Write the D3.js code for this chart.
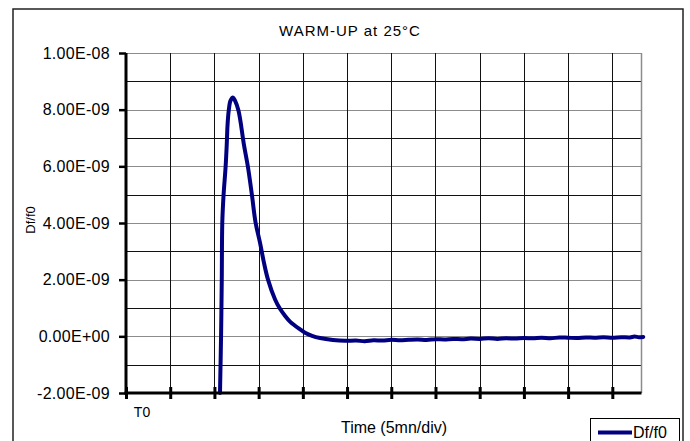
<!doctype html>
<html>
<head>
<meta charset="utf-8" />
<title>WARM-UP at 25°C</title>
<script src="https://cdn.jsdelivr.net/npm/d3@7"></script>
<style>
	body { margin: 0; background: #fff; }
	svg text { font-family: "Liberation Sans", Arial, sans-serif; fill: #000; }
</style>
</head>
<body>
<div id="chart"></div>
<script>
	// time in minutes (5 mn per division), Df/f0 in units of 1e-9
	const time = [10.63, 10.75, 10.83, 10.89, 11.03, 11.26, 11.39, 11.48, 11.62, 11.82, 12.1, 12.33, 12.72, 13.35, 13.8, 14.25, 14.65, 15.16, 15.6, 16.06, 16.86, 17.4, 18.0, 18.55, 19.57, 20.25, 21.04, 21.95, 23.4, 24.77,
		26, 27, 28, 29, 30, 31, 32, 33, 34, 35, 36, 37, 38, 39, 40, 41, 42, 43, 44, 45, 46, 47, 48, 49, 50, 51, 52, 53, 54, 55, 56, 57, 57.5, 58, 58.5];
	const dff0 = [-2.0, 0.0, 1.98, 4.02, 4.97, 5.96, 6.74, 7.44, 7.97, 8.32, 8.43, 8.32, 7.97, 6.74, 5.96, 4.97, 4.02, 3.3, 2.6, 2.0, 1.3, 0.98, 0.72, 0.52, 0.27, 0.13, 0.02, -0.06, -0.13, -0.16,
		-0.15, -0.17, -0.14, -0.15, -0.12, -0.14, -0.12, -0.11, -0.13, -0.1, -0.11, -0.09, -0.1, -0.08, -0.09, -0.07, -0.09, -0.07, -0.08, -0.06, -0.07, -0.05, -0.07, -0.04, -0.05, -0.06, -0.04, -0.05, -0.03, -0.05, -0.03, -0.04, -0.01, -0.03, -0.02];
	const yTicks = [-2, 0, 2, 4, 6, 8, 10];
	const yGrid = [-1, 0, 1, 2, 3, 4, 5, 6, 7, 8, 9, 10];
	const xTicks = [0, 5, 10, 15, 20, 25, 30, 35, 40, 45, 50, 55];
	const xLabels = ["T0"];

	const W = 690, H = 441;
	const plot = { left: 126, right: 641.5, top: 53, bottom: 393 };

	const x = d3.scaleLinear().domain([0, 58.3]).range([plot.left, plot.right]);
	const y = d3.scaleLinear().domain([-2, 10]).range([plot.bottom, plot.top]);

	// Excel style scientific format, e.g. 1.00E-08
	const fmt = (v) => {
		const s = (v * 1e-9).toExponential(2);
		const [m, e] = s.split("e");
		const sign = e[0] === "-" ? "-" : "+";
		const digits = e.replace(/[+-]/, "").padStart(2, "0");
		return `${m}E${sign}${digits}`;
	};

	const svg = d3.select("#chart").append("svg").attr("width", W).attr("height", H);

	// outer frame
	svg.append("rect").attr("x", 13).attr("y", 9).attr("width", 670).attr("height", 445)
		.attr("fill", "#fff").attr("stroke", "#222").attr("stroke-width", 1.5);

	// horizontal gridlines: majors grey, minors black
	svg.append("g").selectAll("line").data(yGrid).join("line")
		.attr("x1", plot.left).attr("x2", plot.right)
		.attr("y1", (d) => Math.round(y(d)) + 0.5).attr("y2", (d) => Math.round(y(d)) + 0.5)
		.attr("stroke", (d) => (d % 2 === 0 ? "#8c8c8c" : "#111"))
		.attr("stroke-width", 1);

	// vertical gridlines
	svg.append("g").selectAll("line").data(xTicks.slice(1)).join("line")
		.attr("x1", (d) => Math.round(x(d)) + 0.5).attr("x2", (d) => Math.round(x(d)) + 0.5)
		.attr("y1", plot.top).attr("y2", plot.bottom)
		.attr("stroke", "#111").attr("stroke-width", 1);

	// right border of plot
	svg.append("line").attr("x1", plot.right).attr("x2", plot.right)
		.attr("y1", plot.top).attr("y2", plot.bottom)
		.attr("stroke", "#8c8c8c").attr("stroke-width", 1.5);

	// data line
	const line = d3.line().x((d, i) => x(time[i])).y((d) => y(d)).curve(d3.curveCatmullRom.alpha(0.5));
	svg.append("path").datum(dff0).attr("d", line)
		.attr("fill", "none").attr("stroke", "#000080").attr("stroke-width", 4)
		.attr("stroke-linejoin", "round").attr("stroke-linecap", "round");

	// y axis
	const yAxis = svg.append("g").attr("transform", `translate(${plot.left},0)`)
		.call(d3.axisLeft(y).tickValues(yTicks).tickFormat(fmt).tickSize(7).tickPadding(9));
	yAxis.select(".domain").attr("stroke", "#000").attr("stroke-width", 3)
		.attr("d", `M0,${plot.top}V${plot.bottom + 1.5}`);
	yAxis.selectAll(".tick line").attr("stroke", "#000").attr("stroke-width", 2.5);
	yAxis.selectAll(".tick text").style("font-size", "16px").style("letter-spacing", "0.3px");

	// x axis
	const xAxis = svg.append("g").attr("transform", `translate(0,${plot.bottom})`)
		.call(d3.axisBottom(x).tickValues(xTicks).tickFormat("").tickSizeInner(6).tickSizeOuter(0));
	xAxis.select(".domain").attr("stroke", "#000").attr("stroke-width", 3)
		.attr("d", `M${plot.left - 1.5},0H${plot.right}`);
	xAxis.selectAll(".tick line").attr("stroke", "#000").attr("stroke-width", 3).attr("y1", -6);

	// category label
	svg.append("g").selectAll("text").data(xLabels).join("text")
		.attr("x", (d, i) => x(xTicks[i]) + 16).attr("y", 417)
		.attr("text-anchor", "middle").style("font-size", "14px").text((d) => d);

	// titles
	svg.append("text").attr("x", 350).attr("y", 36).attr("text-anchor", "middle")
		.style("font-size", "15px").style("letter-spacing", "1px").text("WARM-UP at 25°C");
	svg.append("text").attr("x", 394).attr("y", 433).attr("text-anchor", "middle")
		.style("font-size", "16px").text("Time (5mn/div)");
	svg.append("text").attr("transform", "translate(35,220) rotate(-90)").attr("text-anchor", "middle")
		.style("font-size", "13px").text("Df/f0");

	// legend
	const lg = svg.append("g");
	lg.append("rect").attr("x", 590.5).attr("y", 418.5).attr("width", 89).attr("height", 30)
		.attr("fill", "#fff").attr("stroke", "#000").attr("stroke-width", 1);
	lg.append("line").attr("x1", 598).attr("x2", 632).attr("y1", 432.5).attr("y2", 432.5)
		.attr("stroke", "#000080").attr("stroke-width", 4);
	lg.append("text").attr("x", 633).attr("y", 438).style("font-size", "16px").text("Df/f0");
</script>
</body>
</html>
